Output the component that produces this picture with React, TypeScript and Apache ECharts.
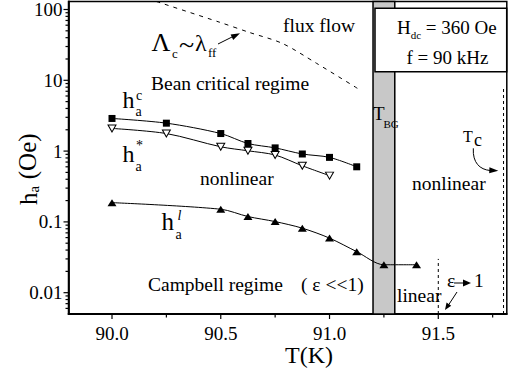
import React, { useEffect, useRef } from 'react';
import * as echarts from 'echarts';

const FONT = '"Liberation Serif", "Times New Roman", serif';

// Axis ranges
const T_MIN = 89.8;
const T_MAX = 91.815;
const H_MIN = 0.005;
const H_MAX = 130;

// Tick positions and labels
const xMajorTicks = [90.0, 90.5, 91.0, 91.5];
const xMinorTicks = [90.25, 90.75, 91.25, 91.75];
const yMajorTicks = [0.01, 0.1, 1, 10, 100];
const yTickLabels = ['0.01', '0.1', '1', '10', '100'];
const yMinorMultipliers = [2, 3, 4, 5, 6, 7, 8, 9];
const yMinorDecades = [0.001, 0.01, 0.1, 1, 10, 100];

// h_a^c : filled squares
const tempC = [90.0, 90.25, 90.5, 90.625, 90.75, 90.875, 91.0, 91.125];
const hC = [2.89, 2.48, 1.77, 1.28, 1.11, 0.91, 0.815, 0.6];

// h_a^* : open down-triangles
const tempStar = [90.0, 90.25, 90.5, 90.625, 90.75, 90.875, 91.0];
const hStar = [2.09, 1.77, 1.15, 1.01, 0.88, 0.62, 0.45];

// h_a^l : filled up-triangles
const tempL = [90.0, 90.5, 90.625, 90.75, 90.875, 91.0, 91.125, 91.25, 91.4];
const hL = [0.187, 0.151, 0.119, 0.101, 0.0815, 0.059, 0.038, 0.0248, 0.0248];

// Flux-flow boundary (Lambda_c ~ lambda_ff)
const fluxT = [90.204, 90.494, 90.632, 90.783, 90.94, 91.128];
const fluxH = [129.6, 66.2, 47.4, 33.2, 17.4, 7.71];

// T_BG band and vertical guides (T, from, to)
const bandT = [91.2, 91.3];
const guideT = [91.5, 91.8];
const guideTop = [0.03, 7.7];

const yMinorTicks: number[] = [];
yMinorDecades.forEach((d) =>
  yMinorMultipliers.forEach((m) => {
    const v = d * m;
    if (v > H_MIN * 1.01 && v < H_MAX) yMinorTicks.push(v);
  })
);

type Pt = [number, number];

function txt(text: string, x: number, y: number, size: number, extra: any = {}) {
  return {
    type: 'text',
    z: 100,
    x,
    y,
    ...extra,
    style: {
      text,
      fontSize: size,
      fontFamily: FONT,
      fill: '#000',
      align: 'left',
      verticalAlign: 'middle',
      textAlign: 'left',
      textVerticalAlign: 'middle',
      ...(extra.style || {}),
    },
  };
}

function head(tip: Pt, from: Pt, len = 8, half = 3) {
  const dx = tip[0] - from[0];
  const dy = tip[1] - from[1];
  const d = Math.hypot(dx, dy);
  const ux = dx / d;
  const uy = dy / d;
  const bx = tip[0] - ux * len;
  const by = tip[1] - uy * len;
  return {
    type: 'polygon',
    z: 100,
    shape: { points: [tip, [bx - uy * half, by + ux * half], [bx + uy * half, by - ux * half]] },
    style: { fill: '#000' },
  };
}

function seg(a: Pt, b: Pt, w = 1) {
  return {
    type: 'line',
    z: 100,
    shape: { x1: a[0], y1: a[1], x2: b[0], y2: b[1] },
    style: { stroke: '#000', lineWidth: w },
  };
}

const labelFont = { color: '#000', fontFamily: FONT, fontSize: 19 };

// Tick marks: [T, h, length, direction] where direction 0 = leftwards, 1 = downwards
const tickRows = (): number[][] => [
  ...yMajorTicks.map((v) => [T_MIN, v, 5, 0]),
  ...yMinorTicks.map((v) => [T_MIN, v, 3, 0]),
  ...xMajorTicks.map((v) => [v, H_MIN, 5, 1]),
  ...xMinorTicks.map((v) => [v, H_MIN, 3.5, 1]),
];

function buildOption(): any {
  const lineStyle = { color: '#000', width: 1 };

  return {
    animation: false,
    backgroundColor: '#fff',
    grid: {
      left: 68.5,
      top: 1,
      width: 438.3,
      height: 313,
      show: true,
      borderColor: '#000',
      borderWidth: 1.5,
      backgroundColor: 'transparent',
    },
    xAxis: {
      type: 'value',
      min: T_MIN,
      max: T_MAX,
      splitLine: { show: false },
      axisTick: { show: false },
      axisLine: { show: true, lineStyle: { color: '#000', width: 1.8 } },
      axisLabel: {
        ...labelFont,
        margin: 10,
        showMinLabel: false,
        showMaxLabel: false,
        formatter: (v: number) => {
          const hit = xMajorTicks.find((t) => Math.abs(t - v) < 1e-6);
          return hit === undefined ? '' : hit.toFixed(1);
        },
      },
    },
    yAxis: {
      type: 'log',
      logBase: 10,
      min: H_MIN,
      max: H_MAX,
      splitLine: { show: false },
      minorTick: { show: false },
      axisTick: { show: false },
      axisLine: { show: true, lineStyle: { color: '#000', width: 1.8 } },
      axisLabel: {
        ...labelFont,
        margin: 6,
        showMinLabel: false,
        showMaxLabel: false,
        formatter: (v: number) => {
          const i = yMajorTicks.findIndex((t) => Math.abs(t - v) / t < 1e-6);
          return i < 0 ? '' : yTickLabels[i];
        },
      },
    },
    series: [
      {
        type: 'custom',
        z: 1,
        silent: true,
        dimensions: ['t0', 'h0', 't1', 'h1'],
        data: [[bandT[0], H_MIN, bandT[1], H_MAX]],
        encode: { x: [0, 2], y: [1, 3] },
        renderItem: (_p: any, api: any) => {
          const a = api.coord([api.value(0), api.value(3)]);
          const b = api.coord([api.value(2), api.value(1)]);
          return {
            type: 'rect',
            shape: { x: a[0], y: a[1], width: b[0] - a[0], height: b[1] - a[1] },
            style: { fill: '#c8c8c8', stroke: '#000', lineWidth: 1.5 },
          };
        },
      },
      {
        type: 'custom',
        z: 2,
        silent: true,
        dimensions: ['t', 'h0', 'h1'],
        data: guideT.map((t, i) => [t, H_MIN, guideTop[i]]),
        encode: { x: 0, y: [1, 2] },
        renderItem: (_p: any, api: any) => {
          const a = api.coord([api.value(0), api.value(1)]);
          const b = api.coord([api.value(0), api.value(2)]);
          return {
            type: 'line',
            shape: { x1: a[0], y1: a[1], x2: b[0], y2: b[1] },
            style: { stroke: '#000', lineWidth: 1, lineDash: [3, 3] },
          };
        },
      },
      {
        // axis tick marks, placed through the axes' own scales
        type: 'custom',
        z: 6,
        silent: true,
        dimensions: ['t', 'h', 'len', 'dir'],
        data: tickRows(),
        encode: { x: 0, y: 1, tooltip: [2, 3] },
        renderItem: (_p: any, api: any) => {
          const p = api.coord([api.value(0), api.value(1)]);
          const len = Number(api.value(2));
          const down = Number(api.value(3)) === 1;
          const pts = down
            ? [[p[0], p[1]], [p[0], p[1] + len]]
            : [[p[0] - len, p[1]], [p[0], p[1]]];
          return {
            type: 'polyline',
            shape: { points: pts },
            style: { stroke: '#000', lineWidth: 1.2, fill: null },
          };
        },
      },
      {
        type: 'line',
        z: 4,
        data: fluxT.map((t, i) => [t, fluxH[i]]),
        symbol: 'none',
        smooth: 0.3,
        lineStyle: { color: '#000', width: 1, type: [4, 5] },
      },
      {
        type: 'line',
        z: 5,
        data: tempC.map((t, i) => [t, hC[i]]),
        symbol: 'rect',
        symbolSize: 7,
        smooth: 0.3,
        itemStyle: { color: '#000' },
        lineStyle,
      },
      {
        type: 'line',
        z: 5,
        data: tempStar.map((t, i) => [t, hStar[i]]),
        symbol: 'triangle',
        symbolRotate: 180,
        symbolSize: [8, 7],
        smooth: 0.3,
        itemStyle: { color: '#fff', borderColor: '#000', borderWidth: 1 },
        lineStyle,
      },
      {
        type: 'line',
        z: 5,
        data: tempL.map((t, i) => [t, hL[i]]),
        symbol: 'triangle',
        symbolSize: [9, 7],
        smooth: 0.3,
        itemStyle: { color: '#000' },
        lineStyle,
      },
    ],
    graphic: [
      // parameter box
      {
        type: 'rect',
        z: 100,
        shape: { x: 375, y: 8.3, width: 131.7, height: 63.4 },
        style: { fill: '#fff', stroke: '#000', lineWidth: 1.5 },
      },
      txt('H', 397, 27, 19),
      txt('dc', 410.7, 35, 11),
      txt(' = 360 Oe', 421, 27, 19),
      txt('f = 90 kHz', 406.5, 57, 19),

      txt('flux flow', 283, 25.4, 19.5),
      txt('Bean critical regime', 151, 83.4, 19.5),
      txt('nonlinear', 200, 178.4, 19.5),
      txt('nonlinear', 412, 183.4, 19.5),
      txt('Campbell regime', 148, 284.9, 19.5),
      txt('( ε <<1)', 301, 284.9, 19.5),
      txt('linear', 397, 295.1, 19.5),

      // Lambda_c ~ lambda_ff
      txt('Λ', 151.5, 42.9, 26),
      txt('c', 172, 53.1, 13),
      txt('~', 179, 44, 28),
      txt('λ', 195, 42.9, 24),
      txt('ff', 208, 52.9, 13),
      seg([218, 44], [233, 36.5]),
      head([240, 33.3], [218, 44], 9, 3),

      // T_BG
      txt('T', 373, 113.3, 19),
      txt('BG', 383.5, 123.6, 11),

      // T_c with curved arrow
      txt('T', 463, 136.6, 16),
      txt('c', 474, 139.9, 18),
      {
        type: 'bezierCurve',
        z: 100,
        shape: { x1: 473.3, y1: 148.3, cpx1: 472.5, cpy1: 163, cpx2: 480, cpy2: 169.5, x2: 490, y2: 170.5 },
        style: { stroke: '#000', lineWidth: 1, fill: 'none' },
      },
      head([498.3, 170.7], [489, 170.3], 9, 3),

      // epsilon -> 1
      txt('ε', 447, 280.4, 19.5),
      seg([454, 283], [464, 283]),
      head([471, 283], [454, 283], 8, 3.5),
      txt('1', 474, 280.4, 19.5),
      seg([457, 292], [448.5, 305]),
      head([445, 310], [457, 292], 7, 2.8),

      // branch labels
      txt('h', 122.5, 100.2, 24),
      txt('c', 136, 95.5, 14),
      txt('a', 135.5, 111.9, 14),
      txt('h', 122.5, 153.6, 24),
      txt('*', 136, 145.9, 14),
      txt('a', 135.5, 166, 14),
      txt('h', 161.5, 221.9, 25),
      txt('l', 177.5, 215.1, 14, { style: { fontStyle: 'italic' } }),
      txt('a', 175.5, 234.5, 14),

      // axis titles
      txt('T(K)', 285, 354.5, 24),
      txt('h', 28.6, 205, 25, { rotation: Math.PI / 2 }),
      txt('a', 34, 192.5, 15, { rotation: Math.PI / 2 }),
      txt(' (Oe)', 27.6, 185.5, 25, { rotation: Math.PI / 2 }),
    ],
  };
}

export default function App() {
  const ref = useRef<HTMLDivElement>(null);
  useEffect(() => {
    if (!ref.current) return;
    const chart = echarts.init(ref.current, undefined, { renderer: 'svg' });
    chart.setOption(buildOption());
    return () => chart.dispose();
  }, []);
  return (
    <div
      ref={ref}
      style={{ position: 'absolute', left: 0, top: 0, width: 508, height: 379, background: '#fff' }}
    />
  );
}
